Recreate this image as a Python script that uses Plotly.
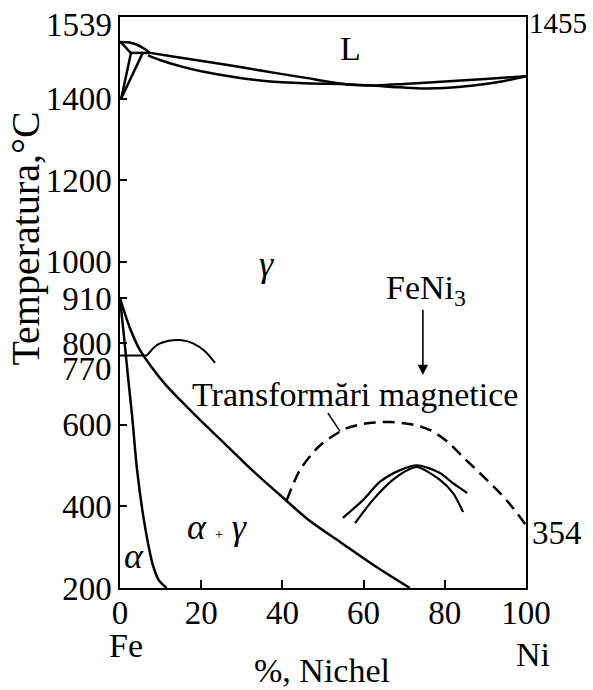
import plotly.graph_objects as go

# ---- phase boundaries (x: % Ni, T: °C) ----
# delta-iron corner
delta_liq_x = [0, 2, 4.2, 6, 7.4]
delta_liq_T = [1539, 1538, 1532, 1522, 1512]
delta_sol_x = [0, 1, 2, 2.7]
delta_sol_T = [1539, 1530, 1519, 1512]
perit_x = [2.7, 7.4]
perit_T = [1512, 1512]
dg_left_x = [2.7, 0.3]
dg_left_T = [1512, 1400]
dg_right_x = [5.6, 0.3]
dg_right_T = [1512, 1400]

# liquidus / solidus with the congruent minimum
liq_x = [7.4, 15, 25, 35, 45, 55, 58.5, 62, 70, 80, 90, 100]
liq_T = [1512, 1500, 1485, 1468, 1452, 1436, 1433, 1432, 1436, 1442, 1448, 1455]
sol_x = [6.9, 10, 15, 20, 28, 37, 47, 55, 58.5, 62, 68, 74, 80, 87, 94, 100]
sol_T = [1506, 1494, 1479, 1467, 1453, 1442, 1437, 1436, 1433, 1432, 1428, 1425, 1426, 1432, 1442, 1455]

# gamma / (alpha + gamma)
a3_x = [0, 2.46, 4.93, 7.39, 11.1, 14.8, 19.7, 25.9, 32.0, 39.4, 46.8, 54.2, 62.8, 71.4]
a3_T = [910, 837, 783, 747, 700, 661, 612, 553, 494, 428, 364, 313, 254, 200]

# alpha / (alpha + gamma)
alpha_x = [0, 1, 2, 3, 4.2, 5.7, 7, 8.1, 9.5, 11.5]
alpha_T = [910, 815, 715, 620, 490, 378, 305, 256, 220, 200]

# magnetic transformations
curie_a_x = [0, 6.6]
curie_a_T = [770, 770]
curie_g_x = [6.6, 9, 12, 14.8, 18, 21, 23.4]
curie_g_T = [770, 795, 806, 808, 800, 780, 752]
mag_x = [41.1, 44.3, 49.3, 55.9, 61, 66.5, 72, 76.4, 80.5, 84.5, 88.5, 92.9, 96.5, 100]
mag_T = [416, 489, 550, 592, 604, 607, 601, 587, 560, 521, 483, 440, 400, 354]
leader_x = [51.2, 54.2]
leader_T = [629, 584]

# FeNi3 ordering
ord1_x = [54.9, 59.9, 64, 69, 73.2, 78.8, 82, 85.5]
ord1_T = [372, 416, 460, 489, 501, 482, 457, 433]
ord2_x = [57.9, 62.3, 67.2, 71, 73.2, 78.8, 82, 84.5]
ord2_T = [359, 416, 465, 490, 497, 465, 433, 386]

# arrow to the FeNi3 ordering region
arrow_x = 74.6
arrow_T = [886, 722]

# axes
x_ticks = [0, 20, 40, 60, 80, 100]
y_ticks = [200, 400, 600, 800, 910, 1000, 1200, 1400]

FONT = "Liberation Serif"
fig = go.Figure()


def curve(xs, ys, dash="solid", smooth=True, width=2.5):
    fig.add_trace(go.Scatter(
        x=xs, y=ys, mode="lines",
        line=dict(color="black", width=width, dash=dash,
                  shape="spline" if smooth else "linear",
                  smoothing=0.8 if smooth else None),
        hoverinfo="skip", showlegend=False, cliponaxis=False))


curve(delta_liq_x, delta_liq_T)
curve(delta_sol_x, delta_sol_T)
curve(perit_x, perit_T, smooth=False)
curve(dg_left_x, dg_left_T, smooth=False)
curve(dg_right_x, dg_right_T, smooth=False)
curve(liq_x, liq_T)
curve(sol_x, sol_T)
curve(a3_x, a3_T)
curve(alpha_x, alpha_T)
curve(curie_a_x, curie_a_T, smooth=False, width=2)
curve(curie_g_x, curie_g_T, width=2)
curve(mag_x, mag_T, dash="12px,7px")
curve(leader_x, leader_T, smooth=False, width=1.5)
curve(ord1_x, ord1_T, width=2.2)
curve(ord2_x, ord2_T, width=2.2)

ann = []


def label(text, x, y, size=34, xref="x", yref="y", xanchor="center",
          yanchor="middle", **kw):
    ann.append(dict(text=text, x=x, y=y, xref=xref, yref=yref, showarrow=False,
                    xanchor=xanchor, yanchor=yanchor,
                    font=dict(family=FONT, size=size, color="black"), **kw))


# arrow
ann.append(dict(x=arrow_x, y=arrow_T[1], ax=arrow_x, ay=arrow_T[0],
                xref="x", yref="y", axref="x", ayref="y", text="",
                showarrow=True, arrowhead=2, arrowsize=1.3, arrowwidth=1.6,
                arrowcolor="black"))

label("L", 56.7, 1524)
label("<i>γ</i>", 36, 994, size=36)
label("<i>α</i> <span style='font-size:14px'>+</span> <i>γ</i>", 23.9, 350, size=36)
label("<i>α</i>", 3.5, 278, size=36)
label("Transformări magnetice", 58, 675)
label("FeNi<sub>3</sub>", 75.4, 930)

# special temperature marks
label("1539", 0, 0.986, size=33, xref="paper", yref="paper", xanchor="right", xshift=-6)
label("770", 0, 770, size=33, xref="paper", xanchor="right", xshift=-6, yshift=-13)
label("1455", 1, 0.989, size=29, xref="paper", yref="paper", xanchor="left", xshift=1)
label("354", 1, 354, size=33, xref="paper", xanchor="left", xshift=4, yshift=-8)

# axis names
label("Fe", 0.015, -0.1, xref="paper", yref="paper")
label("Ni", 1.017, -0.117, xref="paper", yref="paper")
label("%, Nichel", 0.498, -0.144, xref="paper", yref="paper")
label("Temperatura,°C", -0.2315, 0.612, size=40, xref="paper", yref="paper",
      textangle=-90)

fig.update_layout(
    width=593, height=690,
    margin=dict(l=120, r=67, t=17, b=102),
    paper_bgcolor="white", plot_bgcolor="white",
    font=dict(family=FONT, size=33, color="black"),
    annotations=ann,
    showlegend=False,
)
fig.update_xaxes(
    range=[0, 100], tickvals=x_ticks, ticktext=[str(v) for v in x_ticks],
    ticks="inside", ticklen=8, tickwidth=1.5, tickcolor="black",
    showline=True, linecolor="black", linewidth=1.5, mirror=True,
    showgrid=False, zeroline=False, ticklabelstandoff=-5,
    tickfont=dict(family=FONT, size=33, color="black"),
)
fig.update_yaxes(
    range=[200, 1600], tickvals=y_ticks, ticktext=[str(v) for v in y_ticks],
    ticks="inside", ticklen=7, tickwidth=1.5, tickcolor="black",
    showline=True, linecolor="black", linewidth=1.5, mirror=True,
    showgrid=False, zeroline=False,
    tickfont=dict(family=FONT, size=33, color="black"),
)

fig.write_html("out.html")
